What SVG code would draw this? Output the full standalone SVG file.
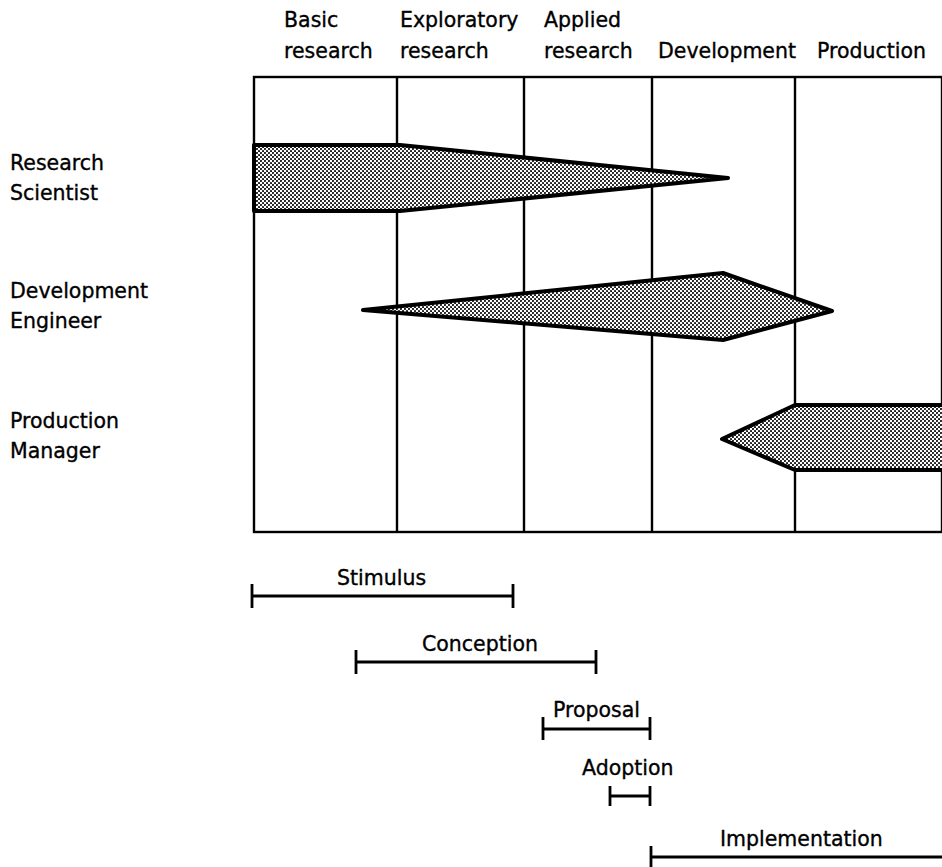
<svg xmlns="http://www.w3.org/2000/svg" width="942" height="867" viewBox="0 0 942 867">
<style>
text{font-family:"DejaVu Sans","Liberation Sans",sans-serif;font-size:20.5px;fill:#000;stroke:#000;stroke-width:0.35}
.grid{fill:none;stroke:#000;stroke-width:2.4}
.band{fill:url(#dots);stroke:#000;stroke-width:4;stroke-linejoin:round}
.bar{stroke:#000;stroke-width:2.8;fill:none}
</style>
<defs>
<pattern id="dots" width="4" height="4" patternUnits="userSpaceOnUse">
<rect width="4" height="4" fill="#fff"/>
<circle cx="1" cy="1" r="1.05" fill="#111"/>
<circle cx="3" cy="3" r="1.05" fill="#111"/>
</pattern>
</defs>
<g id="headers">
<text x="284" y="27">Basic</text>
<text x="284" y="58">research</text>
<text x="400" y="27">Exploratory</text>
<text x="400" y="58">research</text>
<text x="544" y="27">Applied</text>
<text x="544" y="58">research</text>
<text x="658" y="58">Development</text>
<text x="817" y="58">Production</text>
</g>
<g id="grid">
<rect class="grid" x="254" y="77" width="688" height="455"/>
<line class="grid" x1="397" y1="77" x2="397" y2="532"/>
<line class="grid" x1="524" y1="77" x2="524" y2="532"/>
<line class="grid" x1="652" y1="77" x2="652" y2="532"/>
<line class="grid" x1="795" y1="77" x2="795" y2="532"/>
</g>
<g id="research-scientist">
<text x="10" y="170">Research</text>
<text x="10" y="200">Scientist</text>
<polygon class="band" points="254,145 400,145 728,178 400,211 254,211"/>
</g>
<g id="development-engineer">
<text x="10" y="298">Development</text>
<text x="10" y="328">Engineer</text>
<polygon class="band" points="363,310 723,273 832,311 723,340"/>
</g>
<g id="production-manager">
<text x="10" y="428">Production</text>
<text x="10" y="458">Manager</text>
<polygon class="band" points="722,439 795,405 944,405 944,470 795,470"/>
</g>
<g id="connectors">
<g id="stimulus">
<text x="337" y="585">Stimulus</text>
<path class="bar" d="M252,596 H513 M252,584 V608 M513,584 V608"/>
</g>
<g id="conception">
<text x="422" y="651">Conception</text>
<path class="bar" d="M356,662 H596 M356,650 V674 M596,650 V674"/>
</g>
<g id="proposal">
<text x="553" y="717">Proposal</text>
<path class="bar" d="M543,729 H650 M543,717 V740 M650,717 V740"/>
</g>
<g id="adoption">
<text x="582" y="775">Adoption</text>
<path class="bar" d="M610,796 H650 M610,786 V806 M650,786 V806"/>
</g>
<g id="implementation">
<text x="720" y="846">Implementation</text>
<path class="bar" d="M651,857 H942 M651,846 V867"/>
</g>
</g>
</svg>
